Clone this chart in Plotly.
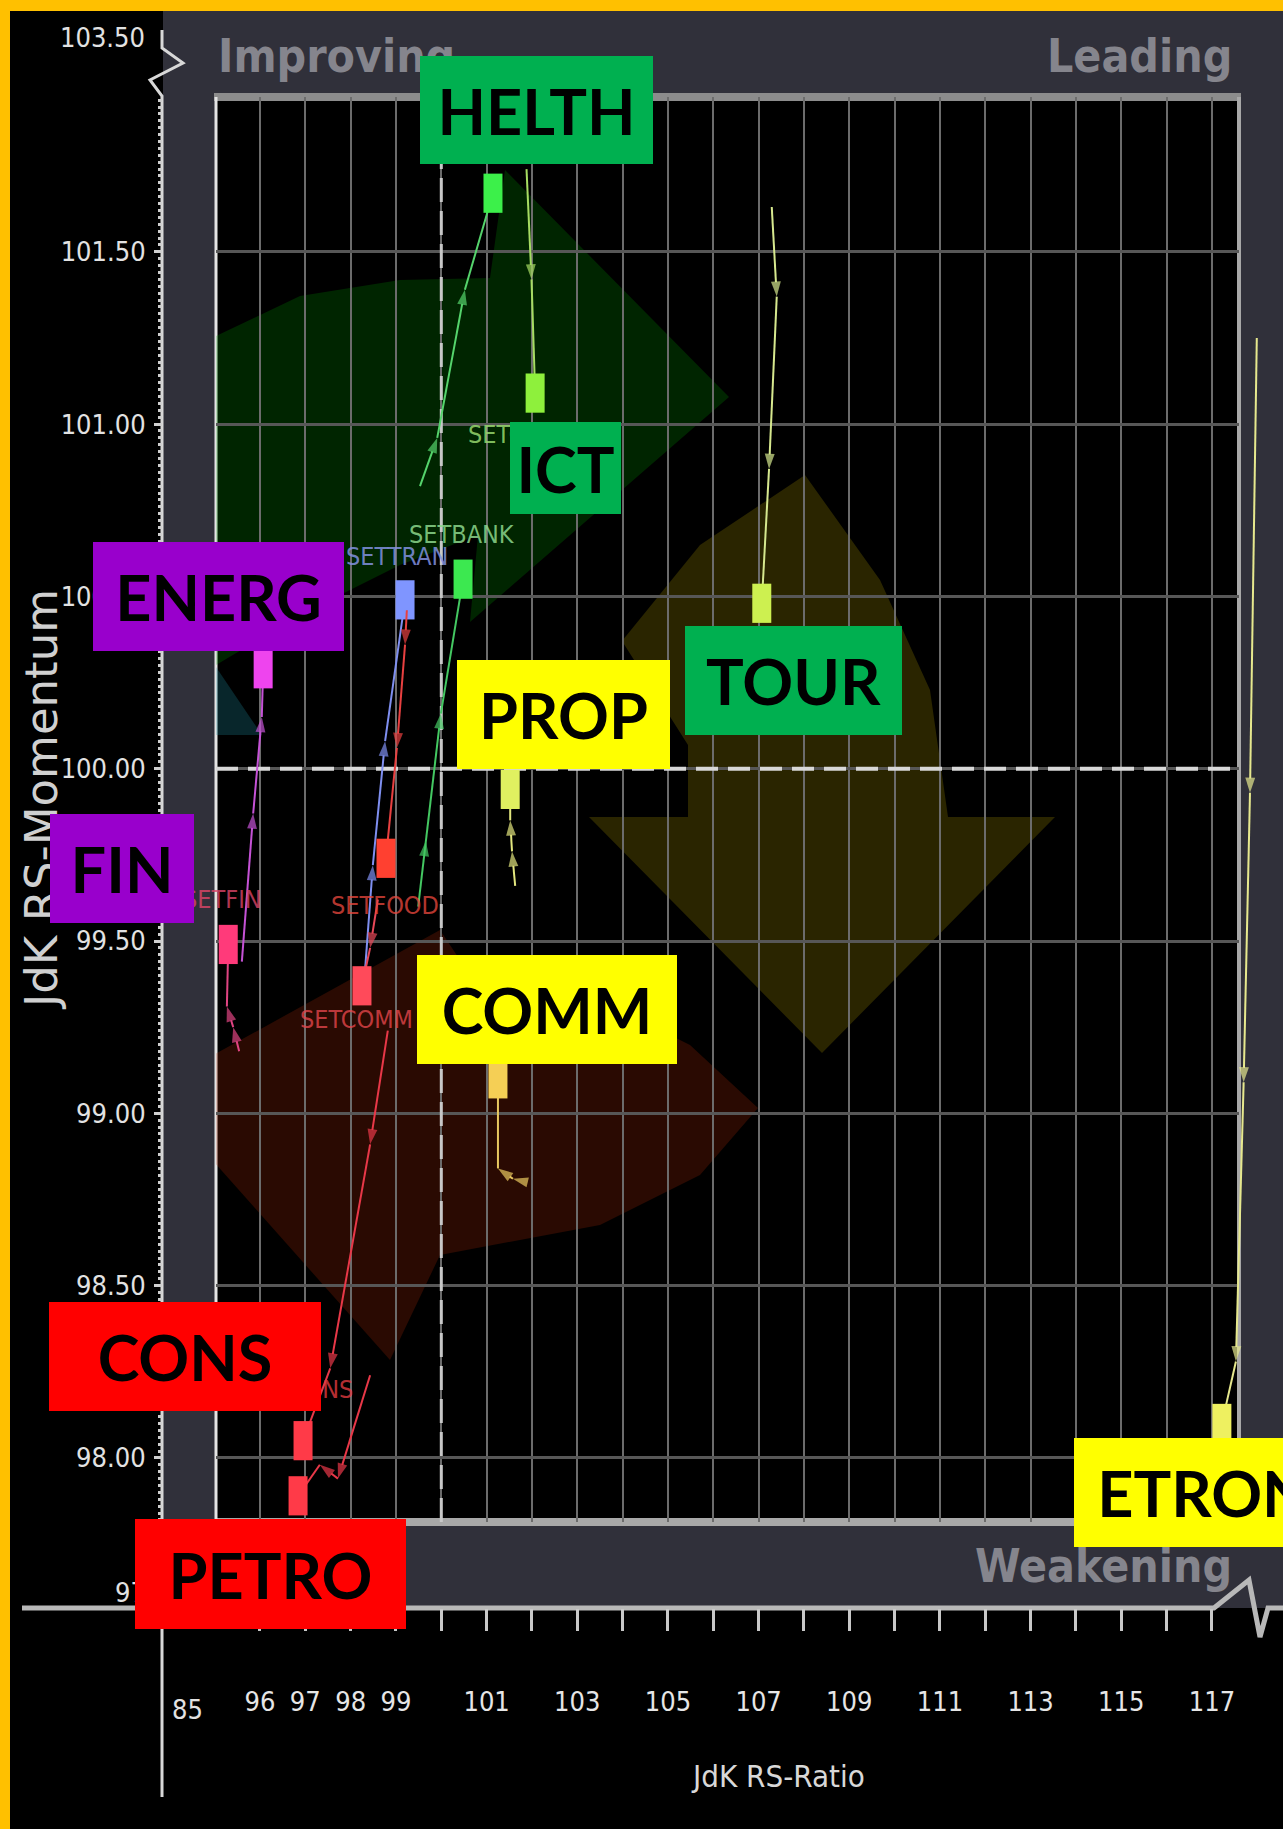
import plotly.graph_objects as go

W, H = 1283, 1829

# ---------------- data: JdK RS-Ratio (x) / JdK RS-Momentum (y) ----------------
health_x = [99.53, 99.91, 100.52, 101.14]
health_y = [100.82, 100.96, 101.39, 101.67]
ict_x = [101.88, 101.99, 102.07]
ict_y = [101.74, 101.42, 101.09]
tour_x = [107.29, 107.40, 107.23, 107.07]
tour_y = [101.63, 101.37, 100.87, 100.48]
prop_x = [101.63, 101.56, 101.52, 101.52]
prop_y = [99.66, 99.76, 99.85, 99.94]
etron_x = [117.99, 117.84, 117.70, 117.53, 117.22]
etron_y = [101.25, 99.93, 99.09, 98.28, 98.10]
comm_x = [101.89, 101.58, 101.25, 101.25]
comm_y = [98.80, 98.81, 98.84, 99.10]
bank_x = [99.49, 99.66, 99.99, 100.48]
bank_y = [99.60, 99.79, 100.16, 100.55]
tran_x = [98.32, 98.49, 98.76, 99.20]
tran_y = [99.42, 99.72, 100.08, 100.49]
food_x = [99.24, 99.20, 99.02, 98.78]
food_y = [100.46, 100.36, 100.06, 99.74]
setcomm_x = [98.60, 98.43, 98.25]
setcomm_y = [99.62, 99.48, 99.37]
energ_x = [95.60, 95.85, 96.04, 96.07]
energ_y = [99.44, 99.87, 100.15, 100.29]
fin_x = [95.54, 95.41, 95.27, 95.30]
fin_y = [99.18, 99.25, 99.31, 99.49]
cons_x = [98.82, 98.43, 97.55, 96.95]
cons_y = [99.24, 98.91, 98.26, 98.05]
petro_x = [98.43, 97.72, 97.32, 96.84]
petro_y = [98.24, 97.94, 97.98, 97.89]

x_tickvals = [96, 97, 98, 99, 100, 101, 102, 103, 104, 105, 106, 107, 108, 109,
              110, 111, 112, 113, 114, 115, 116, 117]
x_ticktext = ["96", "97", "98", "99", "", "101", "", "103", "", "105", "", "107", "",
              "109", "", "111", "", "113", "", "115", "", "117"]
y_tickvals = [98.0, 98.5, 99.0, 99.5, 100.0, 100.5, 101.0, 101.5]
y_ticktext = ["98.00", "98.50", "99.00", "99.50", "100.00", "100.50", "101.00", "101.50"]
x_break_label = "85"
y_top_break_label = "103.50"
y_bottom_break_label = "97.70"

# ---------------- pixel <-> value mapping (layout) ----------------
X100_PX, PX_PER_X = 441.3, 45.33
Y100_PX, PX_PER_Y = 768.7, 344.6


def vx(px):
    return 100 + (px - X100_PX) / PX_PER_X


def vy(py):
    return 100 - (py - Y100_PX) / PX_PER_Y


def fx(px):
    return px / W


def fy(py):
    return 1 - py / H


L, R, T, B = 216, 1239, 97, 1522       # plot frame
YAX_X, XAX_Y = 162, 1608               # axis lines

COND = "DejaVu Sans Condensed, Liberation Sans Narrow, Arial Narrow, DejaVu Sans, sans-serif"
BOXFONT = "Lato, Carlito, Open Sans, sans-serif"

fig = go.Figure()

# reference dashed lines at 100 (grid subplot)
fig.add_trace(go.Scatter(x=[vx(L), vx(R)], y=[100, 100], mode="lines",
                         line=dict(color="#d8d8d8", width=4, dash="22px,10px"),
                         hoverinfo="skip", xaxis="x", yaxis="y"))
fig.add_trace(go.Scatter(x=[100, 100], y=[vy(B), vy(T)], mode="lines",
                         line=dict(color="#c8c8c8", width=3, dash="24px,9px"),
                         hoverinfo="skip", xaxis="x", yaxis="y"))

series = [
    ("tran", tran_x, tran_y, "#7f8ff0", "#7f95ff"),
    ("food", food_x, food_y, "#e84040", "#ff4030"),
    ("setcomm", setcomm_x, setcomm_y, "#e84858", "#ff4a5a"),
    ("bank", bank_x, bank_y, "#44c862", "#3ce850"),
    ("health", health_x, health_y, "#55d46c", "#3cf04a"),
    ("ict", ict_x, ict_y, "#a6dc62", "#8ef03c"),
    ("tour", tour_x, tour_y, "#d6e88e", "#cdf050"),
    ("prop", prop_x, prop_y, "#e2e67e", "#e0f060"),
    ("comm", comm_x, comm_y, "#e8c860", "#f5cf55"),
    ("etron", etron_x, etron_y, "#e6e88e", "#eef060"),
    ("energ", energ_x, energ_y, "#c552d6", "#ee44ee"),
    ("fin", fin_x, fin_y, "#e04482", "#ff3a7a"),
    ("cons", cons_x, cons_y, "#e83848", "#ff3a48"),
    ("petro", petro_x, petro_y, "#e83848", "#ff3a48"),
]
for name, xs, ys, lc, hc in series:
    n = len(xs)
    fig.add_trace(go.Scatter(
        x=xs, y=ys, mode="lines+markers", name=name,
        line=dict(color=lc, width=2),
        marker=dict(symbol="arrow", size=[16] * (n - 1) + [0], angleref="previous",
                    color=lc, line=dict(width=0)),
        hoverinfo="skip", xaxis="x2", yaxis="y2"))
    # head: tall filled block (vertical bar marker)
    fig.add_trace(go.Scatter(
        x=[xs[-1]], y=[ys[-1]], mode="markers", name=name + " head",
        marker=dict(symbol="line-ns", size=28, color=hc, line=dict(width=19, color=hc)),
        hoverinfo="skip", xaxis="x2", yaxis="y2"))


# ---------------- background decorations ----------------
def ppath(pts):
    return "M " + " L ".join(f"{fx(a):.5f},{fy(b):.5f}" for a, b in pts)


def dpath(pts):
    return "M " + " L ".join(f"{vx(a):.4f},{vy(b):.4f}" for a, b in pts) + " Z"


shapes = []
# gray chart band with hole for the plot area
outer = [(YAX_X + 1, 11), (W + 5, 11), (W + 5, XAX_Y), (YAX_X + 1, XAX_Y)]
inner = [(L, T), (L, B), (R, B), (R, T)]
shapes.append(dict(type="path", xref="paper", yref="paper", layer="below",
                   path=ppath(outer) + " Z " + ppath(inner) + " Z",
                   fillcolor="#30303a", line=dict(width=0)))
# orange frame (top and left)
shapes.append(dict(type="rect", xref="paper", yref="paper", layer="below",
                   x0=0, x1=1, y0=fy(11), y1=1, fillcolor="#FFC000", line=dict(width=0)))
shapes.append(dict(type="rect", xref="paper", yref="paper", layer="below",
                   x0=0, x1=fx(10), y0=0, y1=1, fillcolor="#FFC000", line=dict(width=0)))
# plot frame borders
for (x0, y0, x1, y1, col, wd) in [
    (L - 2, T, R + 2, T, "#8c8c8c", 8),
    (L, B, R + 2, B, "#a8a8a8", 8),
    (R, T, R, B, "#a8a8a8", 4),
    (L, T, L, B, "#e4e4e4", 3),
]:
    shapes.append(dict(type="line", xref="paper", yref="paper", layer="below",
                       x0=fx(x0), y0=fy(y0), x1=fx(x1), y1=fy(y1),
                       line=dict(color=col, width=wd)))
# axis lines with scale-break zigzags
shapes.append(dict(type="path", xref="paper", yref="paper", layer="below",
                   path=ppath([(YAX_X, 30), (YAX_X, 48), (183, 63), (150, 80), (YAX_X, 96), (YAX_X, 1797)]),
                   line=dict(color="#d8d8d8", width=3)))
shapes.append(dict(type="path", xref="paper", yref="paper", layer="below",
                   path=ppath([(22, XAX_Y), (1214, XAX_Y), (1249, 1580), (1260, 1637), (1268, XAX_Y), (1290, XAX_Y)]),
                   line=dict(color="#b8b8b8", width=5)))
# translucent rotation arrows (clipped to plot area)
green_arrow = [(120, 380), (216, 336), (300, 296), (400, 280), (490, 278), (505, 170),
               (729, 397), (470, 622), (478, 535), (400, 565), (300, 615), (216, 665), (120, 720)]
yellow_arrow = [(622, 641), (700, 545), (805, 475), (880, 580), (930, 690), (948, 817),
                (1055, 817), (822, 1053), (589, 817), (688, 817), (688, 745)]
red_arrow = [(758, 1108), (690, 1045), (600, 1000), (470, 975), (440, 930), (150, 1090),
             (390, 1360), (440, 1255), (600, 1225), (700, 1175)]
blue_arrow = [(130, 540), (262, 735), (200, 735), (200, 1000), (0, 1000), (0, 735)]
for pts, col in [(green_arrow, "rgba(0,170,0,0.22)"), (yellow_arrow, "rgba(190,170,0,0.22)"),
                 (red_arrow, "rgba(190,45,10,0.22)"), (blue_arrow, "rgba(30,150,170,0.25)")]:
    shapes.append(dict(type="path", xref="x", yref="y", layer="below", path=dpath(pts),
                       fillcolor=col, line=dict(width=0)))

# ---------------- annotations ----------------
ann = []
quad_font = dict(family=COND, size=46, color="#85858d", weight="bold")
ann.append(dict(text="Improving", x=fx(216), y=fy(56), xanchor="left", yanchor="middle", font=quad_font))
ann.append(dict(text="Leading", x=fx(1234), y=fy(56), xanchor="right", yanchor="middle", font=quad_font))
ann.append(dict(text="Weakening", x=fx(1234), y=fy(1566), xanchor="right", yanchor="middle", font=quad_font))

tick_font = dict(family=COND, size=27, color="#e2e2e2")
ann.append(dict(text=y_top_break_label, x=fx(147), y=fy(38), xanchor="right", yanchor="middle", font=tick_font))
ann.append(dict(text=y_bottom_break_label, x=fx(113), y=fy(1592), xanchor="left", yanchor="middle", font=tick_font))
ann.append(dict(text=x_break_label, x=fx(187), y=fy(1709), xanchor="center", yanchor="middle",
                font=dict(family=COND, size=27, color="#e2e2e2")))

ann.append(dict(text="JdK RS-Ratio", x=fx(778), y=fy(1776), xanchor="center", yanchor="middle",
                font=dict(family=COND, size=31, color="#d8d8d8")))
ann.append(dict(text="JdK RS-Momentum", x=fx(41), y=fy(800), xanchor="center", yanchor="middle",
                textangle=-90, font=dict(family="DejaVu Sans, sans-serif", size=45, color="#d0d0d0")))

# faint original series labels near heads
for text, hx, hy, dx, dy, col in [
    ("SETBANK", bank_x, bank_y, -1, 45, "rgba(140,215,140,0.85)"),
    ("SETTRAN", tran_x, tran_y, -8, 43, "rgba(130,145,225,0.85)"),
    ("SETCOMUN", ict_x, ict_y, -4, -41, "rgba(150,215,110,0.85)"),
    ("SETFIN", fin_x, fin_y, -6, 45, "rgba(225,70,105,0.8)"),
    ("SETFOOD", food_x, food_y, -1, -47, "rgba(230,70,60,0.8)"),
    ("SETCOMM", setcomm_x, setcomm_y, -5, -34, "rgba(230,70,75,0.8)"),
    ("SETCONS", cons_x, cons_y, -3, 51, "rgba(230,60,65,0.8)"),
]:
    ann.append(dict(text=text, x=hx[-1], y=hy[-1], xref="x2", yref="y2", xshift=dx, yshift=dy,
                    xanchor="center", yanchor="middle", font=dict(family=COND, size=25, color=col)))

# sector boxes
GREEN, YELLOW, RED, PURPLE = "#00B050", "#FFFF00", "#FF0000", "#9900CC"
for text, x0, x1, y0, y1, col in [
    ("HELTH", 420, 653, 56, 164, GREEN),
    ("ICT", 510, 621, 422, 514, GREEN),
    ("ENERG", 93, 344, 542, 651, PURPLE),
    ("PROP", 457, 670, 660, 769, YELLOW),
    ("TOUR", 685, 902, 626, 735, GREEN),
    ("FIN", 50, 194, 814, 923, PURPLE),
    ("COMM", 417, 677, 955, 1064, YELLOW),
    ("CONS", 49, 321, 1302, 1411, RED),
    ("PETRO", 135, 406, 1519, 1629, RED),
    ("ETRON", 1074, 1334, 1438, 1547, YELLOW),
]:
    ann.append(dict(text=text, x=fx((x0 + x1) / 2), y=fy((y0 + y1) / 2), xanchor="center", yanchor="middle",
                    width=x1 - x0, height=y1 - y0, bgcolor=col, borderpad=0, borderwidth=0,
                    align="center", valign="middle",
                    font=dict(family=BOXFONT, size=63, color="black", weight="bold")))

for a in ann:
    a.setdefault("xref", "paper")
    a.setdefault("yref", "paper")
    a["showarrow"] = False

fig.update_layout(
    width=W, height=H, margin=dict(l=0, r=0, t=0, b=0),
    paper_bgcolor="#000000", plot_bgcolor="rgba(0,0,0,0)", showlegend=False,
    shapes=shapes, annotations=ann,
    xaxis=dict(domain=[fx(L), fx(R)], range=[vx(L), vx(R)], anchor="free", position=fy(XAX_Y),
               tickmode="array", tickvals=x_tickvals, ticktext=x_ticktext,
               showgrid=True, gridcolor="#6c6c6c", gridwidth=1.5, zeroline=False, showline=False,
               ticks="outside", ticklen=22, tickwidth=3, tickcolor="#c8c8c8",
               tickfont=dict(family=COND, size=27, color="#e6e6e6"), ticklabelstandoff=48,
               fixedrange=True),
    yaxis=dict(domain=[fy(B), fy(T)], range=[vy(B), vy(T)], anchor="free", position=fx(YAX_X),
               tickmode="array", tickvals=y_tickvals, ticktext=y_ticktext,
               showgrid=True, gridcolor="#575757", gridwidth=3, zeroline=False, showline=False,
               ticks="outside", ticklen=8, tickwidth=3, tickcolor="#d0d0d0",
               tickfont=dict(family=COND, size=27, color="#e2e2e2"), ticklabelstandoff=3,
               minor=dict(tickmode="linear", tick0=98, dtick=0.02, ticks="outside", ticklen=4,
                          tickwidth=3, tickcolor="#cfcfcf", showgrid=False),
               fixedrange=True),
    xaxis2=dict(domain=[0, 1], range=[vx(0), vx(W)], visible=False, anchor="y2", fixedrange=True),
    yaxis2=dict(domain=[0, 1], range=[vy(H), vy(0)], visible=False, anchor="x2", fixedrange=True),
)

fig.write_html("out.html", config={"displayModeBar": False},
               post_script="document.body.style.margin='0';document.body.style.overflow='hidden';"
                           "document.body.style.background='#000';")
